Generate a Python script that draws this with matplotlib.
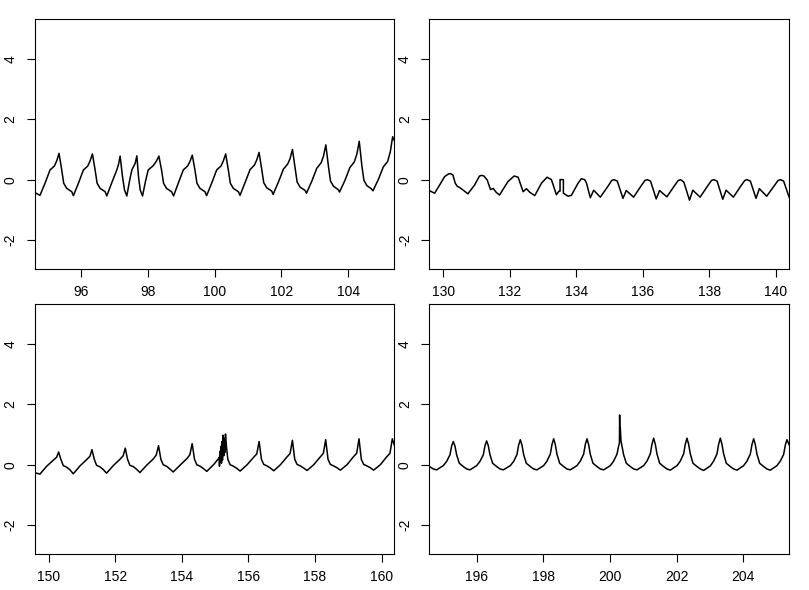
import numpy as np
import matplotlib
matplotlib.use("Agg")
import matplotlib.pyplot as plt

plt.rcParams['font.family'] = ['Liberation Sans', 'DejaVu Sans']
plt.rcParams['axes.unicode_minus'] = False

# панель 1: 95..105
t1 = [94.55, 94.65, 94.77,
      94.92, 95.07, 95.20, 95.27, 95.34, 95.42, 95.48, 95.57, 95.72, 95.77,
      95.92, 96.07, 96.20, 96.27, 96.34, 96.42, 96.48, 96.57, 96.72, 96.77,
      96.92, 97.07, 97.12, 97.17, 97.24, 97.30, 97.37,
      97.45, 97.52, 97.62, 97.67, 97.72, 97.77, 97.84,
      97.93, 98.01, 98.16, 98.26, 98.33, 98.41, 98.47, 98.56, 98.71, 98.77,
      98.91, 99.06, 99.19, 99.26, 99.33, 99.41, 99.47, 99.56, 99.71, 99.76,
      99.91, 100.06, 100.19, 100.26, 100.33, 100.41, 100.47, 100.56, 100.71, 100.76,
      100.91, 101.06, 101.19, 101.26, 101.33, 101.41, 101.47, 101.56, 101.71, 101.75,
      101.91, 102.06, 102.19, 102.26, 102.33, 102.41, 102.47, 102.56, 102.71, 102.75,
      102.91, 103.06, 103.19, 103.26, 103.33, 103.41, 103.47, 103.56, 103.70, 103.74,
      103.90, 104.05, 104.18, 104.26, 104.33, 104.41, 104.47, 104.56, 104.69, 104.74,
      104.90, 105.05, 105.18, 105.26, 105.33, 105.40, 105.45]
v1 = [-0.38, -0.45, -0.52,
      -0.12, 0.32, 0.45, 0.62, 0.87, 0.32, -0.12, -0.29, -0.40, -0.53,
      -0.12, 0.32, 0.45, 0.62, 0.85, 0.32, -0.12, -0.29, -0.40, -0.54,
      -0.10, 0.32, 0.50, 0.78, 0.10, -0.34, -0.54,
      -0.05, 0.32, 0.54, 0.79, 0.10, -0.34, -0.54,
      -0.05, 0.32, 0.46, 0.62, 0.78, 0.32, -0.12, -0.29, -0.40, -0.54,
      -0.12, 0.32, 0.45, 0.60, 0.81, 0.32, -0.12, -0.29, -0.40, -0.53,
      -0.12, 0.32, 0.45, 0.62, 0.85, 0.32, -0.12, -0.29, -0.40, -0.52,
      -0.10, 0.33, 0.48, 0.65, 0.90, 0.34, -0.10, -0.27, -0.38, -0.49,
      -0.08, 0.35, 0.52, 0.70, 1.00, 0.38, -0.08, -0.25, -0.36, -0.45,
      -0.05, 0.38, 0.56, 0.78, 1.15, 0.42, -0.05, -0.22, -0.33, -0.41,
      -0.03, 0.40, 0.58, 0.85, 1.27, 0.45, -0.02, -0.20, -0.30, -0.37,
      0.00, 0.42, 0.60, 0.92, 1.42, 1.25, 1.20]

# панель 2: 130..140
t2 = [129.55, 129.59, 129.74, 129.89, 130.04, 130.16, 130.22, 130.29, 130.36, 130.42,
      130.49, 130.60, 130.74, 130.94, 131.09, 131.15, 131.22, 131.32, 131.42, 131.50,
      131.59, 131.69, 131.94, 132.13, 132.25, 132.40, 132.50, 132.60, 132.75, 132.95,
      133.12, 133.25, 133.40, 133.48, 133.51, 133.51, 133.61, 133.61, 133.75, 133.85,
      134.05, 134.15, 134.25, 134.30, 134.42, 134.52, 134.72, 134.95,
      135.06, 135.13, 135.23, 135.40, 135.50, 135.72, 135.95,
      136.06, 136.13, 136.23, 136.40, 136.50, 136.72, 136.95,
      137.06, 137.13, 137.23, 137.40, 137.50, 137.72, 137.95,
      138.06, 138.13, 138.23, 138.40, 138.50, 138.72, 138.95,
      139.06, 139.13, 139.23, 139.40, 139.50, 139.72, 139.95,
      140.06, 140.13, 140.23, 140.40, 140.45]
v2 = [-0.35, -0.37, -0.45, -0.18, 0.10, 0.19, 0.20, 0.15, -0.12, -0.22,
      -0.26, -0.35, -0.47, -0.18, 0.12, 0.14, 0.12, -0.01, -0.33, -0.29,
      -0.42, -0.51, -0.07, 0.12, 0.08, -0.40, -0.30, -0.42, -0.53, -0.12,
      0.08, 0.00, -0.50, -0.38, -0.38, 0.00, 0.00, -0.45, -0.55, -0.52,
      -0.12, 0.03, 0.00, -0.10, -0.60, -0.35, -0.58, -0.22,
      -0.03, 0.00, -0.05, -0.62, -0.36, -0.58, -0.20,
      -0.03, 0.00, -0.05, -0.64, -0.36, -0.57, -0.20,
      -0.03, 0.00, -0.08, -0.68, -0.35, -0.58, -0.20,
      -0.03, 0.00, -0.05, -0.65, -0.35, -0.58, -0.20,
      -0.03, 0.00, -0.05, -0.62, -0.30, -0.55, -0.20,
      -0.03, 0.00, -0.05, -0.60, -0.62]

# панель 3: 150..160
t3 = [149.55, 149.60, 149.74,
      149.94, 150.14, 150.24, 150.30, 150.37, 150.44, 150.54, 150.64, 150.74,
      150.94, 151.14, 151.24, 151.30, 151.37, 151.44, 151.54, 151.64, 151.74,
      151.94, 152.14, 152.24, 152.30, 152.37, 152.44, 152.54, 152.64, 152.74,
      152.94, 153.14, 153.23, 153.30, 153.37, 153.44, 153.54, 153.64, 153.74,
      153.95, 154.15, 154.24, 154.31, 154.38, 154.45, 154.55, 154.65, 154.75,
      154.95, 155.10, 155.12, 155.13, 155.15, 155.16, 155.18, 155.19, 155.21, 155.22,
      155.24, 155.26, 155.27, 155.29, 155.31, 155.34, 155.38, 155.45, 155.55, 155.65, 155.75,
      155.96, 156.15, 156.25, 156.32, 156.39, 156.46, 156.56, 156.66, 156.76,
      156.96, 157.15, 157.25, 157.32, 157.39, 157.46, 157.56, 157.66, 157.76,
      157.96, 158.15, 158.25, 158.32, 158.39, 158.46, 158.56, 158.66, 158.76,
      158.96, 159.15, 159.25, 159.32, 159.39, 159.46, 159.56, 159.66, 159.76,
      159.96, 160.15, 160.25, 160.32, 160.39, 160.45]
v3 = [-0.25, -0.27, -0.31,
      -0.05, 0.15, 0.25, 0.42, 0.17, -0.03, -0.08, -0.17, -0.30,
      -0.04, 0.17, 0.28, 0.50, 0.18, -0.02, -0.07, -0.16, -0.28,
      -0.03, 0.18, 0.30, 0.55, 0.18, -0.02, -0.06, -0.15, -0.26,
      -0.02, 0.19, 0.32, 0.63, 0.18, 0.00, -0.05, -0.14, -0.24,
      -0.01, 0.20, 0.33, 0.70, 0.18, 0.00, -0.05, -0.13, -0.22,
      0.00, 0.20, 0.25, -0.05, 0.45, 0.10, 0.62, 0.05, 0.78, 0.15,
      0.98, 0.30, 0.88, 0.40, 1.02, 0.60, 0.18, 0.00, -0.05, -0.12, -0.21,
      0.00, 0.24, 0.36, 0.77, 0.18, 0.01, -0.04, -0.11, -0.20,
      0.00, 0.25, 0.37, 0.81, 0.18, 0.01, -0.04, -0.11, -0.19,
      0.00, 0.25, 0.38, 0.83, 0.18, 0.01, -0.04, -0.10, -0.18,
      0.00, 0.26, 0.38, 0.86, 0.18, 0.01, -0.04, -0.10, -0.18,
      0.00, 0.26, 0.38, 0.86, 0.62, 0.55]

# панель 4: 195..205
t4 = [194.55, 194.60, 194.70, 194.80,
      195.00, 195.10, 195.20, 195.25, 195.30, 195.35, 195.40, 195.48, 195.60, 195.70, 195.80,
      196.00, 196.10, 196.20, 196.25, 196.30, 196.35, 196.40, 196.48, 196.60, 196.70, 196.80,
      197.01, 197.11, 197.21, 197.26, 197.31, 197.36, 197.41, 197.49, 197.61, 197.71, 197.81,
      198.01, 198.11, 198.21, 198.26, 198.31, 198.36, 198.41, 198.49, 198.61, 198.71, 198.81,
      199.01, 199.11, 199.21, 199.26, 199.31, 199.36, 199.41, 199.49, 199.61, 199.71, 199.81,
      200.01, 200.11, 200.21, 200.26, 200.285, 200.29, 200.30, 200.31, 200.33, 200.36, 200.41,
      200.49, 200.61, 200.71, 200.81,
      201.01, 201.11, 201.21, 201.26, 201.31, 201.36, 201.41, 201.49, 201.61, 201.71, 201.81,
      202.01, 202.11, 202.21, 202.26, 202.31, 202.36, 202.41, 202.49, 202.61, 202.71, 202.81,
      203.01, 203.11, 203.21, 203.26, 203.31, 203.36, 203.41, 203.49, 203.61, 203.71, 203.81,
      204.01, 204.11, 204.21, 204.26, 204.31, 204.36, 204.41, 204.49, 204.61, 204.71, 204.81,
      205.01, 205.11, 205.21, 205.26, 205.31, 205.36, 205.40, 205.45]
v4 = [-0.05, -0.07, -0.14, -0.17,
      -0.03, 0.11, 0.33, 0.62, 0.77, 0.62, 0.33, 0.05, -0.06, -0.14, -0.17,
      -0.03, 0.11, 0.33, 0.63, 0.79, 0.63, 0.33, 0.05, -0.06, -0.14, -0.17,
      -0.03, 0.11, 0.34, 0.65, 0.83, 0.65, 0.34, 0.05, -0.06, -0.14, -0.17,
      -0.03, 0.12, 0.35, 0.67, 0.86, 0.67, 0.35, 0.05, -0.06, -0.14, -0.17,
      -0.03, 0.12, 0.35, 0.67, 0.86, 0.67, 0.35, 0.05, -0.06, -0.14, -0.17,
      -0.03, 0.12, 0.35, 0.62, 0.72, 1.65, 0.85, 1.22, 0.80, 0.62, 0.33,
      0.05, -0.06, -0.14, -0.17,
      -0.03, 0.12, 0.36, 0.68, 0.88, 0.68, 0.36, 0.05, -0.06, -0.14, -0.18,
      -0.03, 0.12, 0.36, 0.68, 0.88, 0.68, 0.36, 0.05, -0.06, -0.14, -0.19,
      -0.04, 0.12, 0.36, 0.68, 0.88, 0.68, 0.36, 0.05, -0.06, -0.14, -0.18,
      -0.03, 0.12, 0.35, 0.67, 0.86, 0.67, 0.35, 0.05, -0.06, -0.14, -0.18,
      -0.03, 0.12, 0.34, 0.65, 0.83, 0.70, 0.60, 0.45]

panels = [
    (t1, v1, (94.62, 105.38), [96, 98, 100, 102, 104]),
    (t2, v2, (129.58, 140.40), [130, 132, 134, 136, 138, 140]),
    (t3, v3, (149.59, 160.38), [150, 152, 154, 156, 158, 160]),
    (t4, v4, (194.58, 205.38), [196, 198, 200, 202, 204]),
]

W, H = 809, 590
boxes = [(35, 19, 394.3, 269), (429.3, 19, 789.3, 269),
         (35, 304.3, 394.3, 554), (429.3, 304.3, 789.3, 554)]

fig = plt.figure(figsize=(W / 100, H / 100), dpi=100)
for (t, v, xl, xt), (x0, y0, x1, y1) in zip(panels, boxes):
    ax = fig.add_axes([x0 / W, 1 - y1 / H, (x1 - x0) / W, (y1 - y0) / H])
    ax.plot(t, v, color='black', linewidth=1.1)
    ax.set_xlim(*xl)
    ax.set_ylim(-2.96, 5.32)
    ax.set_xticks(xt)
    ax.set_yticks([-2, 0, 2, 4])
    ax.tick_params(direction='out', length=5.5, width=0.8, labelsize=10, color='black')
    ax.tick_params(axis='x', pad=6)
    ax.tick_params(axis='y', pad=7, labelrotation=90)
    for lab in ax.get_yticklabels():
        lab.set_verticalalignment('center')
    for s in ax.spines.values():
        s.set_linewidth(0.8)

plt.savefig('out.png', dpi=100)
